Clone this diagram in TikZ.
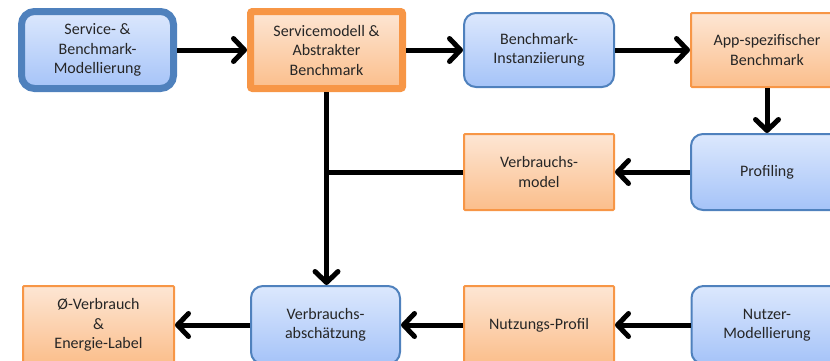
\documentclass[tikz,border=0pt]{standalone}
\usepackage{fontspec}
\setmainfont{Carlito}
\usetikzlibrary{arrows.meta}
\definecolor{bluebd}{HTML}{4F81BD}
\definecolor{bluetop}{HTML}{DCE8FD}
\definecolor{bluebot}{HTML}{A5C3F8}
\definecolor{orbd}{HTML}{F79646}
\definecolor{ortop}{HTML}{FDE6D4}
\definecolor{orbot}{HTML}{FBBE8B}
\tikzset{
  txt/.style={align=center, font=\fontsize{16}{19.5}\selectfont, text=black!85, inner sep=0pt},
  bluebox/.style={txt, draw=bluebd, line width=2pt, rounded corners=12pt, top color=bluetop, bottom color=bluebot, minimum width=150pt, minimum height=74pt},
  orbox/.style={txt, draw=orbd, line width=2pt, rounded corners=1pt, top color=ortop, bottom color=orbot, minimum width=150pt, minimum height=74pt},
  thickblue/.style={bluebox, line width=7pt, rounded corners=13pt, minimum width=152pt, minimum height=77pt},
  thickor/.style={orbox, line width=7pt, rounded corners=2pt, minimum width=152pt, minimum height=77pt},
  conn/.style={line width=5pt, black},
  arr/.style={conn, -{Straight Barb[length=11pt,width=23pt,line cap=round,line join=round]}}
}
\begin{document}
\begin{tikzpicture}[x=1pt,y=-1pt]
\useasboundingbox (0,0) rectangle (830,360);
\clip (0,0) rectangle (830,360);
\node[thickblue] (b1) at (97.5,50) {Service- \&\\Benchmark-\\Modellierung};
\node[thickor] (b2) at (326.5,50) {Servicemodell \&\\Abstrakter\\Benchmark};
\node[bluebox] (b3) at (539,50) {Benchmark-\\Instanziierung};
\node[orbox, minimum width=152pt] (b4) at (767,50) {App-spezifischer\\Benchmark};
\node[bluebox, minimum width=152pt, minimum height=76pt] (b5) at (767,172) {Profiling};
\node[orbox, minimum height=76pt] (b6) at (539,172) {Verbrauchs-\\model};
\node[orbox, minimum width=151pt, minimum height=78pt] (b7) at (98.5,325) {Ø-Verbrauch\\\&\\Energie-Label};
\node[bluebox, minimum width=149pt, minimum height=78pt] (b8) at (325.5,325) {Verbrauchs-\\abschätzung};
\node[orbox, minimum height=78pt] (b9) at (539,325) {Nutzungs-Profil};
\node[bluebox, minimum width=151pt, minimum height=78pt] (b10) at (767,325) {Nutzer-\\Modellierung};
\coordinate (j) at (b2.south |- b6.west);
\draw[arr] (b1) -- (b2);
\draw[arr] (b2) -- (b3);
\draw[arr] (b3) -- (b4);
\draw[arr] (b4) -- (b5);
\draw[arr] (b5) -- (b6);
\draw[conn] (b6.west) -- ([xshift=-2.5pt]j);
\draw[arr] (b2.south) -- (b2.south |- b8.north);
\draw[arr] (b10) -- (b9);
\draw[arr] (b9) -- (b8);
\draw[arr] (b8) -- (b7);
\end{tikzpicture}
\end{document}
